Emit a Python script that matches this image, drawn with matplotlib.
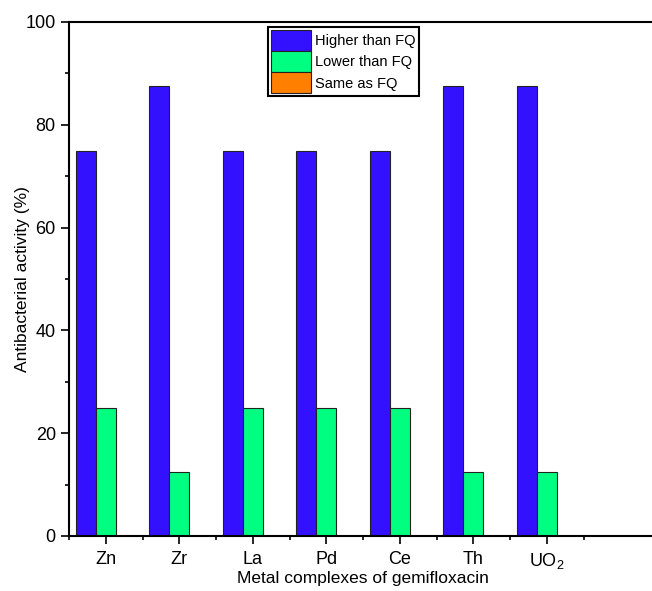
import matplotlib
matplotlib.use("Agg")
import matplotlib.pyplot as plt
import numpy as np
from matplotlib.ticker import MultipleLocator, FixedLocator

plt.rcParams['font.family'] = ['Liberation Sans', 'DejaVu Sans']
plt.rcParams['mathtext.fontset'] = 'custom'
plt.rcParams['mathtext.rm'] = 'Liberation Sans'
plt.rcParams['mathtext.default'] = 'regular'

categories = ['Zn', 'Zr', 'La', 'Pd', 'Ce', 'Th', r'UO$_2$']
higher = [75, 87.5, 75, 75, 75, 87.5, 87.5]
lower = [25, 12.5, 25, 25, 25, 12.5, 12.5]
same = [0, 0, 0, 0, 0, 0, 0]
series_names = ['Higher than FQ', 'Lower than FQ', 'Same as FQ']
colors = ['#3311FF', '#00FF80', '#FF7F00']

fig = plt.figure(figsize=(6.52, 5.91), dpi=100)
ax = fig.add_axes([69/652, 1-536/591, 588/652, 514/591])

x = np.arange(1, len(categories) + 1)
w = 0.272
for vals, off, c, name in zip([higher, lower, same], [-w, 0, w], colors, series_names):
    ax.bar(x + off, vals, width=w, color=c, edgecolor='#222222', linewidth=0.8, label=name)

ax.set_xlim(0.5, 8.5)
ax.set_ylim(0, 100)
ax.set_xticks(x)
ax.set_xticklabels(categories, fontsize=13)
ax.xaxis.set_minor_locator(FixedLocator(np.arange(0.5, 8.5, 1.0)))
ax.yaxis.set_major_locator(MultipleLocator(20))
ax.yaxis.set_minor_locator(MultipleLocator(10))
ax.tick_params(axis='y', labelsize=13, width=1.2, length=6, direction='out')
ax.tick_params(axis='x', width=1.2, length=6, direction='out', pad=5)
ax.tick_params(which='minor', length=3, width=1.2)
for s in ['left', 'bottom', 'top', 'right']:
    ax.spines[s].set_linewidth(1.5)

ax.set_ylabel('Antibacterial activity (%)', fontsize=12.5, labelpad=-3)
ax.set_xlabel('Metal complexes of gemifloxacin', fontsize=12.5, labelpad=0)

leg = ax.legend(loc='upper left', bbox_to_anchor=(0.338, 0.99), borderaxespad=0,
                fontsize=10.5, handlelength=2.8, handleheight=1.85, labelspacing=0.0,
                handletextpad=0.25, borderpad=0.2, fancybox=False, framealpha=1)
leg.get_frame().set_edgecolor('black')
leg.get_frame().set_linewidth(1.5)

fig.savefig('out.png', dpi=100)
